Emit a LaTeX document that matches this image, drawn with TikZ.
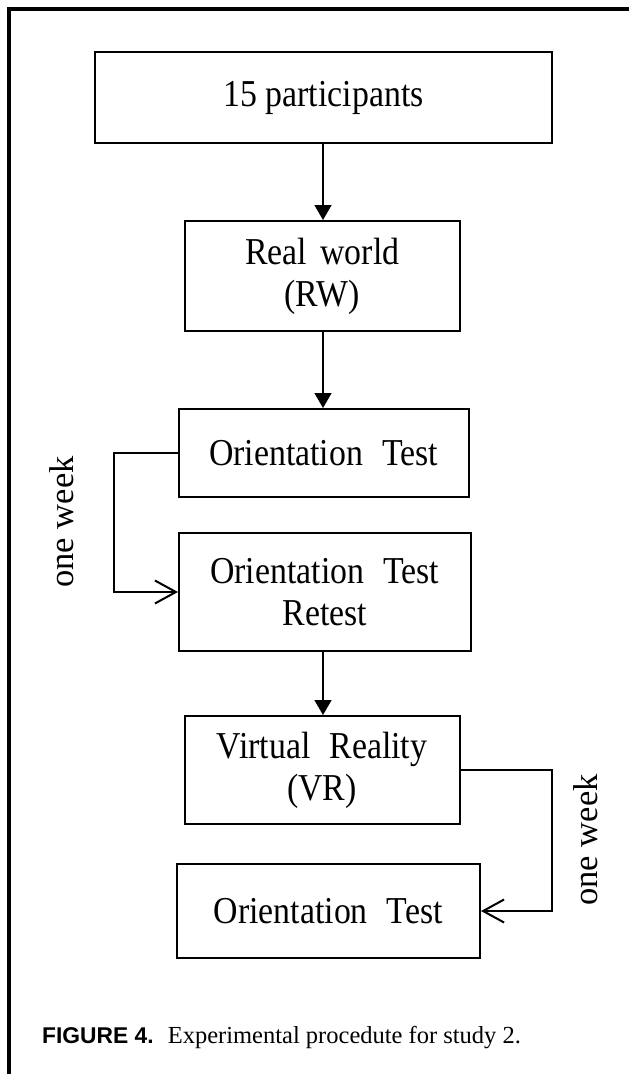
\documentclass[tikz,border=0pt]{standalone}
\usepackage{fontspec}
\setmainfont{Liberation Serif}
\setsansfont{Liberation Sans}
\newfontfamily\boxfont[FakeStretch=0.89]{Liberation Serif}
\usetikzlibrary{arrows.meta}

\tikzset{
  stepbox/.style={draw, line width=2pt, rectangle, inner sep=0pt, align=center,
    font=\boxfont\fontsize{38}{42}\selectfont},
  flow/.style={line width=1.5pt, -{Triangle[length=15pt,width=17pt]}},
  later/.style={line width=2pt, -{Straight Barb[length=21pt,width=23pt,line width=2pt]}},
  gaplabel/.style={rotate=90, inner sep=0pt, font=\fontsize{34.5}{42}\selectfont},
}
\newcommand{\wg}{\hspace{0.5em}}
\newcommand{\sg}{\hspace{0.35em}}

\begin{document}
\begin{tikzpicture}[x=1pt, y=-1pt]
  \useasboundingbox (0,0) rectangle (629,1074);
  \fill[white] (0,0) rectangle (629,1074);

  % page frame (left and top rules)
  \draw[line width=4pt, line join=miter] (8.7,1074) -- (8.7,8.7) -- (629,8.7);

  % procedure steps
  \node[stepbox, minimum width=457pt, minimum height=91pt]   (b1) at (323.5,97.5) {15 participants};
  \node[stepbox, minimum width=274.5pt, minimum height=110pt] (b2) at (322.25,276) {Real\sg world\\(RW)};
  \node[stepbox, minimum width=290pt, minimum height=88pt]   (b3) at (323.5,453) {Orientation\wg Test};
  \node[stepbox, minimum width=291.5pt, minimum height=118pt] (b4) at (324.75,592) {Orientation\wg Test\\Retest};
  \node[stepbox, minimum width=275pt, minimum height=108pt]  (b5) at (322,770) {Virtual\wg Reality\\(VR)};
  \node[stepbox, minimum width=303.5pt, minimum height=94pt] (b6) at (328.25,911) {Orientation\wg Test};

  % sequence arrows
  \coordinate (ax) at (323,0);
  \draw[flow] (b1.south -| ax) -- (b2.north -| ax);
  \draw[flow] (b2.south -| ax) -- (b3.north -| ax);
  \draw[flow] (b4.south -| ax) -- (b5.north -| ax);

  % one-week intervals
  \coordinate (lx) at (113.5,0);
  \coordinate (rx) at (552,0);
  \draw[later] (b3.west) -- (b3.west -| lx) |- (b4.west);
  \draw[later] (b5.east) -- (b5.east -| rx) |- (b6.east);
  \node[gaplabel] (w1) at (62,522) {one week};
  \node[gaplabel] (w2) at (586,840) {one week};

  % caption
  \node[anchor=base west, inner sep=0pt, font=\fontsize{24.5}{28}\selectfont] (cap) at (42,1043)
    {{\sffamily\bfseries\fontsize{22.8}{28}\selectfont FIGURE 4.}\hspace{6pt} Experimental procedute for study 2.};
\end{tikzpicture}
\end{document}
